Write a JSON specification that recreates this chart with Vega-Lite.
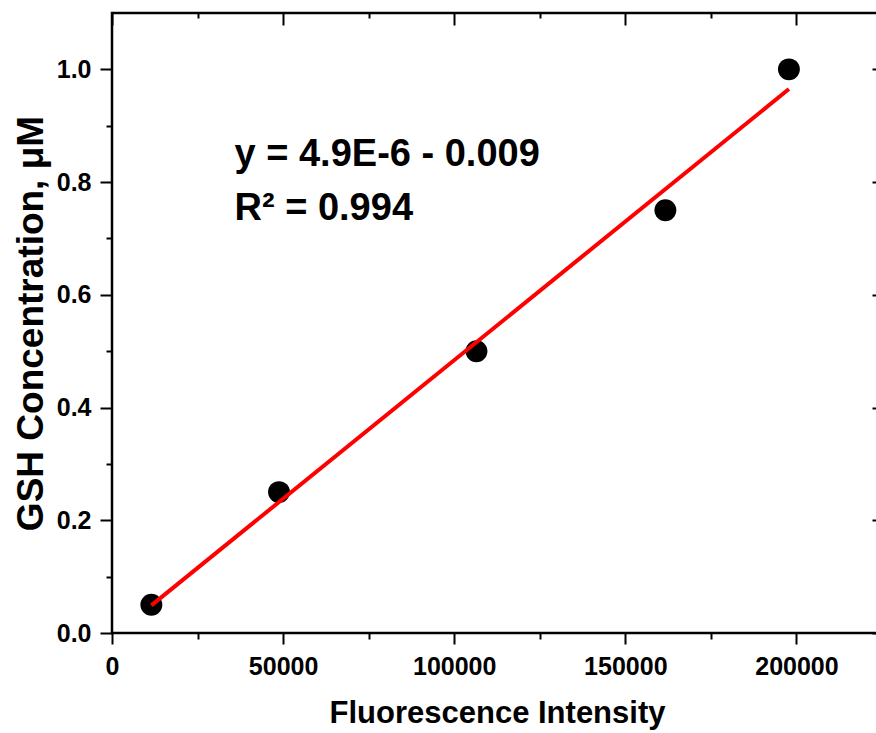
{
  "$schema": "https://vega.github.io/schema/vega-lite/v6.json",
  "autosize": {"type": "none"},
  "width": 770,
  "height": 620,
  "padding": {"left": 112, "top": 13, "right": -6, "bottom": 100},
  "background": "white",
  "datasets": {
    "calibration": [
      {"fi": 11500, "conc": 0.05},
      {"fi": 48800, "conc": 0.25},
      {"fi": 106500, "conc": 0.5},
      {"fi": 161700, "conc": 0.75},
      {"fi": 197800, "conc": 1.0}
    ]
  },
  "config": {
    "view": {"stroke": "black", "strokeWidth": 2.5},
    "axis": {
      "grid": false,
      "domain": false,
      "tickColor": "black",
      "tickWidth": 2,
      "labelFont": "Liberation Sans",
      "labelFontWeight": "bold",
      "labelFontSize": 25,
      "labelColor": "black",
      "titleFont": "Liberation Sans",
      "titleFontWeight": "bold",
      "titleColor": "black"
    }
  },
  "resolve": {"axis": {"x": "independent", "y": "independent"}},
  "layer": [
    {
      "data": {"name": "calibration"},
      "mark": {"type": "circle", "size": 480, "color": "black", "opacity": 1},
      "encoding": {
        "x": {
          "field": "fi",
          "type": "quantitative",
          "scale": {"domain": [0, 225000], "nice": false, "zero": false},
          "axis": {
            "orient": "bottom",
            "values": [0, 50000, 100000, 150000, 200000],
            "format": "d",
            "tickSize": 11,
            "labelPadding": 10,
            "labelFlush": false,
            "title": "Fluorescence Intensity",
            "titleFontSize": 31,
            "titlePadding": 19
          }
        },
        "y": {
          "field": "conc",
          "type": "quantitative",
          "scale": {"domain": [0, 1.1], "nice": false, "zero": false},
          "axis": {
            "orient": "left",
            "values": [0, 0.2, 0.4, 0.6, 0.8, 1.0],
            "format": ".1f",
            "tickSize": 12,
            "labelPadding": 9,
            "labelFlush": false,
            "title": "GSH Concentration, μM",
            "titleFontSize": 37,
            "titlePadding": 6
          }
        }
      }
    },
    {
      "data": {"name": "calibration"},
      "transform": [{"regression": "conc", "on": "fi"}],
      "mark": {"type": "line", "color": "#ff0000", "strokeWidth": 4},
      "encoding": {
        "x": {
          "field": "fi",
          "type": "quantitative",
          "axis": {
            "orient": "bottom",
            "values": [25000, 75000, 125000, 175000],
            "labels": false,
            "tickSize": 6,
            "title": null
          }
        },
        "y": {
          "field": "conc",
          "type": "quantitative",
          "axis": {
            "orient": "left",
            "values": [0.1, 0.3, 0.5, 0.7, 0.9],
            "labels": false,
            "tickSize": 6,
            "title": null
          }
        }
      }
    },
    {
      "data": {"values": [{"label": "y = 4.9E-6 - 0.009"}]},
      "mark": {
        "type": "text",
        "align": "left",
        "baseline": "alphabetic",
        "font": "Liberation Sans",
        "fontWeight": "bold",
        "fontSize": 38,
        "color": "black"
      },
      "encoding": {
        "text": {"field": "label"},
        "x": {
          "datum": 35800,
          "type": "quantitative",
          "axis": {
            "orient": "top",
            "values": [0, 50000, 100000, 150000, 200000],
            "labels": false,
            "tickSize": -12,
            "title": null
          }
        },
        "y": {
          "datum": 0.829,
          "type": "quantitative",
          "axis": {
            "orient": "right",
            "values": [0, 0.2, 0.4, 0.6, 0.8, 1.0],
            "labels": false,
            "tickSize": -10,
            "title": null
          }
        }
      }
    },
    {
      "data": {"values": [{"label": "R² = 0.994"}]},
      "mark": {
        "type": "text",
        "align": "left",
        "baseline": "alphabetic",
        "font": "Liberation Sans",
        "fontWeight": "bold",
        "fontSize": 38,
        "color": "black"
      },
      "encoding": {
        "text": {"field": "label"},
        "x": {
          "datum": 35800,
          "type": "quantitative",
          "axis": {
            "orient": "top",
            "values": [25000, 75000, 125000, 175000],
            "labels": false,
            "tickSize": -5,
            "title": null
          }
        },
        "y": {
          "datum": 0.733,
          "type": "quantitative",
          "axis": {
            "orient": "right",
            "values": [0.1, 0.3, 0.5, 0.7, 0.9],
            "labels": false,
            "tickSize": -5,
            "title": null
          }
        }
      }
    }
  ]
}
